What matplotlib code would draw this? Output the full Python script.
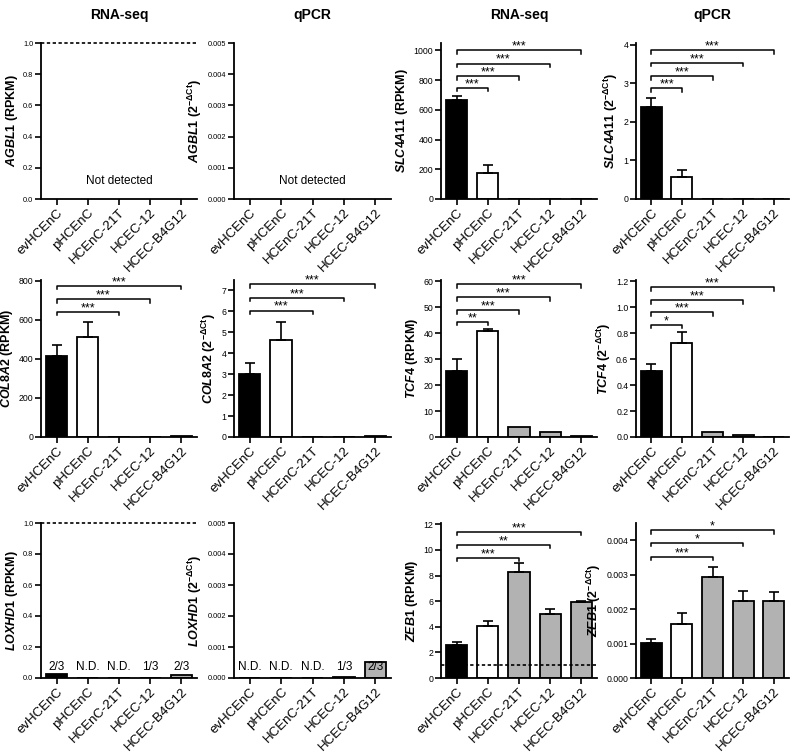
import matplotlib
matplotlib.use("Agg")
import matplotlib.pyplot as plt

plt.rcParams["font.family"] = ["Liberation Sans", "DejaVu Sans"]
plt.rcParams["mathtext.fontset"] = "custom"
plt.rcParams["mathtext.it"] = "Liberation Sans:italic:bold"
plt.rcParams["mathtext.rm"] = "Liberation Sans:bold"
plt.rcParams["mathtext.bf"] = "Liberation Sans:bold"

cells = ["evHCEnC", "pHCEnC", "HCEnC-21T", "HCEC-12", "HCEC-B4G12"]
bar_colors = ["black", "white", "#b2b2b2", "#b2b2b2", "#b2b2b2"]

# row 1
slc4a11_rna = [667, 178, 1.5, 3, 2.5]
slc4a11_rna_err = [27, 49, 0, 0, 0]
slc4a11_qpcr = [2.40, 0.565, 0.004, 0.012, 0.010]
slc4a11_qpcr_err = [0.22, 0.19, 0, 0, 0]

# row 2
col8a2_rna = [415, 511, 0.5, 2.5, 7]
col8a2_rna_err = [55, 79, 0, 0, 0]
col8a2_qpcr = [3.02, 4.63, 0.005, 0.02, 0.04]
col8a2_qpcr_err = [0.51, 0.85, 0, 0, 0]
tcf4_rna = [25.5, 41.0, 4.0, 1.8, 0.4]
tcf4_rna_err = [4.7, 0.6, 0, 0, 0]
tcf4_qpcr = [0.506, 0.725, 0.040, 0.014, 0.002]
tcf4_qpcr_err = [0.057, 0.083, 0, 0, 0]

# row 3
loxhd1_rna = [0.027, 0, 0, 0.003, 0.02]
loxhd1_rna_notes = ["2/3", "N.D.", "N.D.", "1/3", "2/3"]
loxhd1_qpcr = [0, 0, 0, 0.00002, 0.00052]
loxhd1_qpcr_notes = ["N.D.", "N.D.", "N.D.", "1/3", "2/3"]
zeb1_rna = [2.55, 4.05, 8.3, 5.0, 5.95]
zeb1_rna_err = [0.25, 0.38, 0.65, 0.38, 0.1]
zeb1_qpcr = [0.00102, 0.00158, 0.00292, 0.00225, 0.00225]
zeb1_qpcr_err = [0.0001, 0.0003, 0.00031, 0.00029, 0.00025]

# significance brackets: (compared cell index, bracket level, stars)
slc4a11_rna_sig = [(1, 750, "***"), (2, 827, "***"), (3, 912, "***"), (4, 1000, "***")]
slc4a11_qpcr_sig = [(1, 2.87, "***"), (2, 3.19, "***"), (3, 3.54, "***"), (4, 3.86, "***")]
col8a2_rna_sig = [(2, 642, "***"), (3, 707, "***"), (4, 776, "***")]
col8a2_qpcr_sig = [(2, 6.04, "***"), (3, 6.66, "***"), (4, 7.30, "***")]
tcf4_rna_sig = [(1, 44.4, "**"), (2, 48.9, "***"), (3, 53.9, "***"), (4, 58.9, "***")]
tcf4_qpcr_sig = [(1, 0.865, "*"), (2, 0.96, "***"), (3, 1.055, "***"), (4, 1.153, "***")]
zeb1_rna_sig = [(2, 9.4, "***"), (3, 10.4, "**"), (4, 11.4, "***")]
zeb1_qpcr_sig = [(2, 0.00352, "***"), (3, 0.00392, "*"), (4, 0.00429, "*")]

W, H = 800, 754
col_left = [41, 234, 441, 636]
col_width = [156, 157, 156, 153]
row_bottom = [199, 437, 678]
row_height = [156, 157, 155]


def make_ax(fig, r, c):
    left = col_left[c] / W
    bottom = 1 - row_bottom[r] / H
    return fig.add_axes([left, bottom, col_width[c] / W, row_height[r] / H])


def ylabel_text(gene, qpcr):
    unit = r"(2$^{-\Delta\mathrm{Ct}}$)" if qpcr else "(RPKM)"
    return r"$\it{" + gene + "}$ " + unit


def panel(ax, gene, qpcr, ylim, yticks, fmt, vals=None, errs=None, sig=None,
          dashed=None, notes=None, note_y=None, not_detected=False, small=False):
    x = list(range(len(cells)))
    if vals is not None:
        ax.bar(x, vals, width=0.68, color=bar_colors, edgecolor="black",
               linewidth=1.3, zorder=2)
    if errs is not None:
        ex = [i for i in x if errs[i] > 0]
        ax.errorbar(ex, [vals[i] for i in ex],
                    yerr=[[0] * len(ex), [errs[i] for i in ex]], fmt="none",
                    ecolor="black", elinewidth=1.2, capsize=3.5, capthick=1.2,
                    zorder=3)
    ax.set_xlim(-0.5, 4.5)
    ax.set_ylim(*ylim)
    ax.set_yticks(yticks)
    ax.set_yticklabels([fmt % t for t in yticks], fontsize=5.3 if small else 6.3)
    ax.set_xticks(x)
    ax.set_xticklabels(cells, rotation=45, ha="right", rotation_mode="anchor",
                       fontsize=9.5)
    for s in ["top", "right"]:
        ax.spines[s].set_visible(False)
    for s in ["left", "bottom"]:
        ax.spines[s].set_linewidth(1.3)
    ax.tick_params(direction="out", length=4, width=1.2, pad=1.5)
    ax.set_ylabel(ylabel_text(gene, qpcr), fontsize=9, fontweight="bold",
                  labelpad=2.5)
    if dashed is not None:
        ax.axhline(dashed, color="black", lw=1.2, ls=(0, (2, 1.5)),
                   clip_on=False, zorder=4)
    top = ylim[1]
    drop = 0.022 * top
    if sig:
        for j, level, stars in sig:
            ax.plot([0, 0, j, j], [level - drop, level, level, level - drop],
                    color="black", lw=1.1, clip_on=False)
            ax.text(j / 2, level + 0.004 * top, stars, ha="center",
                    va="baseline", fontsize=9)
    if notes:
        for i, t in enumerate(notes):
            ax.text(i, note_y, t, ha="center", va="center", fontsize=8.5,
                    zorder=5)
    if not_detected:
        ax.text(2, 0.115 * top, "Not detected", ha="center", va="center",
                fontsize=8.5)


fig = plt.figure(figsize=(8.0, 7.54), dpi=100)

titles = ["RNA-seq", "qPCR", "RNA-seq", "qPCR"]
for c, t in enumerate(titles):
    xc = (col_left[c] + col_width[c] / 2) / W
    fig.text(xc, 1 - 15 / H, t, ha="center", va="center", fontsize=10,
             fontweight="bold")

tk1 = [0, 0.2, 0.4, 0.6, 0.8, 1.0]
tk5 = [0, 0.001, 0.002, 0.003, 0.004, 0.005]

ax = make_ax(fig, 0, 0)
panel(ax, "AGBL1", False, (0, 1.0), tk1, "%.1f", dashed=1.0,
      not_detected=True, small=True)
ax = make_ax(fig, 0, 1)
panel(ax, "AGBL1", True, (0, 0.005), tk5, "%.3f", not_detected=True, small=True)
ax = make_ax(fig, 0, 2)
panel(ax, "SLC4A11", False, (0, 1050), [0, 200, 400, 600, 800, 1000], "%d",
      slc4a11_rna, slc4a11_rna_err, slc4a11_rna_sig)
ax = make_ax(fig, 0, 3)
panel(ax, "SLC4A11", True, (0, 4.05), [0, 1, 2, 3, 4], "%d",
      slc4a11_qpcr, slc4a11_qpcr_err, slc4a11_qpcr_sig)

ax = make_ax(fig, 1, 0)
panel(ax, "COL8A2", False, (0, 805), [0, 200, 400, 600, 800], "%d",
      col8a2_rna, col8a2_rna_err, col8a2_rna_sig)
ax = make_ax(fig, 1, 1)
panel(ax, "COL8A2", True, (0, 7.5), [0, 1, 2, 3, 4, 5, 6, 7], "%d",
      col8a2_qpcr, col8a2_qpcr_err, col8a2_qpcr_sig)
ax = make_ax(fig, 1, 2)
panel(ax, "TCF4", False, (0, 60.5), [0, 10, 20, 30, 40, 50, 60], "%d",
      tcf4_rna, tcf4_rna_err, tcf4_rna_sig)
ax = make_ax(fig, 1, 3)
panel(ax, "TCF4", True, (0, 1.21), [0, 0.2, 0.4, 0.6, 0.8, 1.0, 1.2], "%.1f",
      tcf4_qpcr, tcf4_qpcr_err, tcf4_qpcr_sig)

ax = make_ax(fig, 2, 0)
panel(ax, "LOXHD1", False, (0, 1.0), tk1, "%.1f", loxhd1_rna, dashed=1.0,
      notes=loxhd1_rna_notes, note_y=0.073, small=True)
ax = make_ax(fig, 2, 1)
panel(ax, "LOXHD1", True, (0, 0.005), tk5, "%.3f", loxhd1_qpcr,
      notes=loxhd1_qpcr_notes, note_y=0.000365, small=True)
ax = make_ax(fig, 2, 2)
panel(ax, "ZEB1", False, (0, 12.1), [0, 2, 4, 6, 8, 10, 12], "%d",
      zeb1_rna, zeb1_rna_err, zeb1_rna_sig, dashed=1.0)
ax = make_ax(fig, 2, 3)
panel(ax, "ZEB1", True, (0, 0.0045), [0, 0.001, 0.002, 0.003, 0.004], "%.3f",
      zeb1_qpcr, zeb1_qpcr_err, zeb1_qpcr_sig)

fig.savefig("out.png", dpi=100)
